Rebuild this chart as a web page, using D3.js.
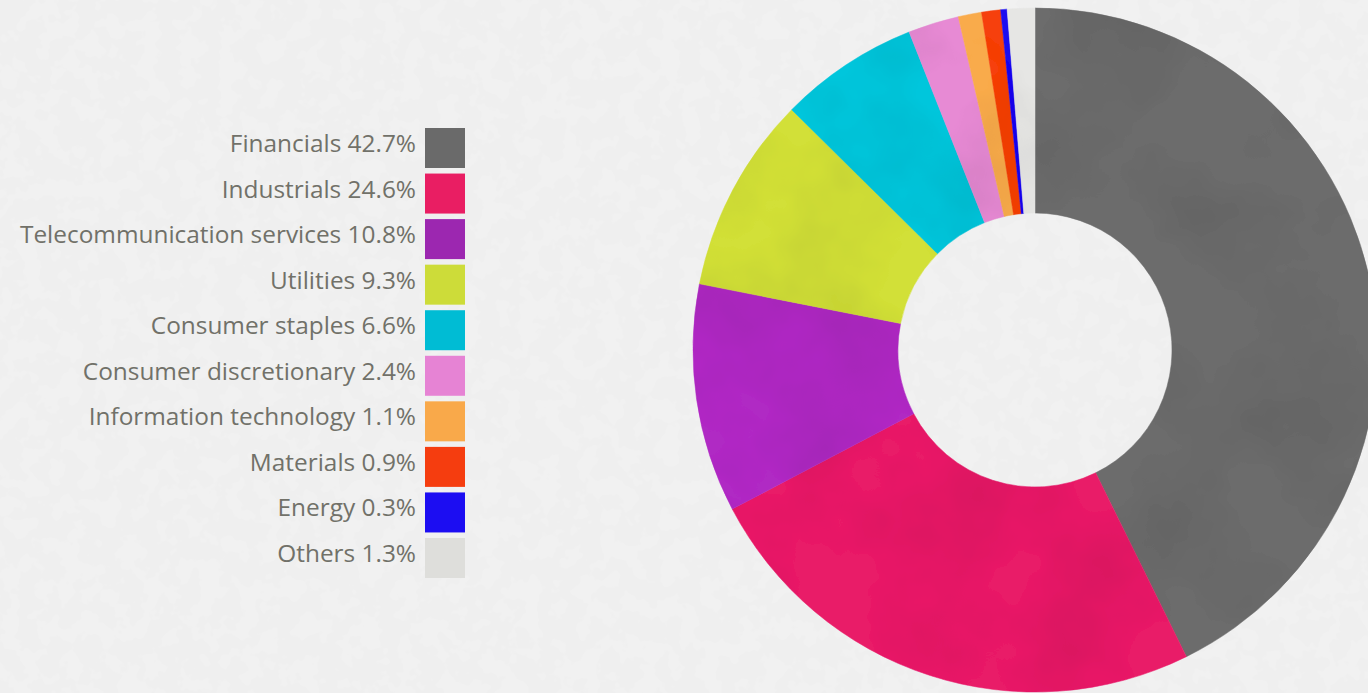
<!DOCTYPE html>
<html>
<head>
<meta charset="utf-8">
<script src="https://cdn.jsdelivr.net/npm/d3@7"></script>
<style>
  html, body { margin: 0; padding: 0; background: #f1f1f1; overflow: hidden; }
  svg { display: block; }
  .legend text { font-family: "Open Sans", "Noto Sans", sans-serif; font-size: 24.4px; font-weight: 400; fill: #717169; }
</style>
</head>
<body>
<svg id="chart"></svg>
<script>
const categories = ['Financials', 'Industrials', 'Telecommunication services', 'Utilities',
    'Consumer staples', 'Consumer discretionary', 'Information technology', 'Materials',
    'Energy', 'Others'];
const values = [42.7, 24.6, 10.8, 9.3, 6.6, 2.4, 1.1, 0.9, 0.3, 1.3];
const colors = ['#6a6a6a', '#e91e63', '#9c27b0', '#cddc39', '#00bcd4', '#e683d4', '#f9a94a',
    '#f53d0f', '#1c0df2', '#dededb'];
const sliceColors = ['#6c6c6c', '#e91e68', '#b02bc4', '#d2e038', '#00c6dc', '#e78ad4', '#f9ab4c',
    '#f6400f', '#1d10f0', '#e6e6e4'];

const width = 1368, height = 693;
const svg = d3.select('#chart').attr('width', width).attr('height', height);

// paper texture + watercolour filters
const defs = svg.append('defs');
const paper = defs.append('filter').attr('id', 'paper').attr('x', 0).attr('y', 0)
    .attr('width', '100%').attr('height', '100%');
paper.append('feTurbulence').attr('type', 'fractalNoise').attr('baseFrequency', 0.05)
    .attr('numOctaves', 3).attr('seed', 4).attr('result', 'noise');
paper.append('feColorMatrix').attr('in', 'noise').attr('type', 'matrix')
    .attr('values', '0 0 0 0 0.85  0 0 0 0 0.85  0 0 0 0 0.85  0 0 0 -9 5').attr('result', 'dots');
paper.append('feComposite').attr('in', 'dots').attr('in2', 'SourceGraphic').attr('operator', 'over');

const wash = defs.append('filter').attr('id', 'wash');
wash.append('feTurbulence').attr('type', 'fractalNoise').attr('baseFrequency', 0.008)
    .attr('numOctaves', 4).attr('seed', 7).attr('result', 'noise');
wash.append('feColorMatrix').attr('in', 'noise').attr('type', 'matrix')
    .attr('values', '0 0 0 0 0  0 0 0 0 0  0 0 0 0 0  0.35 0 0 0 -0.15').attr('result', 'shade');
wash.append('feComposite').attr('in', 'shade').attr('in2', 'SourceGraphic').attr('operator', 'in').attr('result', 'inside');
wash.append('feMerge').call(m => {
    m.append('feMergeNode').attr('in', 'SourceGraphic');
    m.append('feMergeNode').attr('in', 'inside');
});

svg.append('rect').attr('width', width).attr('height', height).attr('fill', '#f1f1f1')
    .attr('filter', 'url(#paper)').attr('opacity', 0.6);

// donut
const cx = 1035, cy = 350, outerR = 342, innerR = 137;
const pie = d3.pie().sort(null).value(d => d);
const arc = d3.arc().innerRadius(innerR).outerRadius(outerR);

const donut = svg.append('g')
    .attr('transform', `translate(${cx},${cy})`)
    .attr('filter', 'url(#wash)');
donut.selectAll('path')
    .data(pie(values))
    .enter()
    .append('path')
    .attr('d', arc)
    .attr('fill', (_, i) => sliceColors[i])
    .attr('stroke', (_, i) => sliceColors[i])
    .attr('stroke-width', 0.5);

// legend
const y = d3.scaleLinear().domain([0, categories.length - 1]).range([128, 538]);
const legend = svg.append('g').attr('class', 'legend');
const item = legend.selectAll('g')
    .data(categories)
    .enter()
    .append('g')
    .attr('transform', (_, i) => `translate(0,${y(i)})`);
item.append('rect')
    .attr('x', 425)
    .attr('width', 40)
    .attr('height', 40)
    .attr('fill', (_, i) => colors[i]);
item.append('text')
    .attr('x', 416)
    .attr('y', 24)
    .attr('text-anchor', 'end')
    .text((d, i) => `${d} ${values[i].toFixed(1)}%`);
</script>
</body>
</html>
